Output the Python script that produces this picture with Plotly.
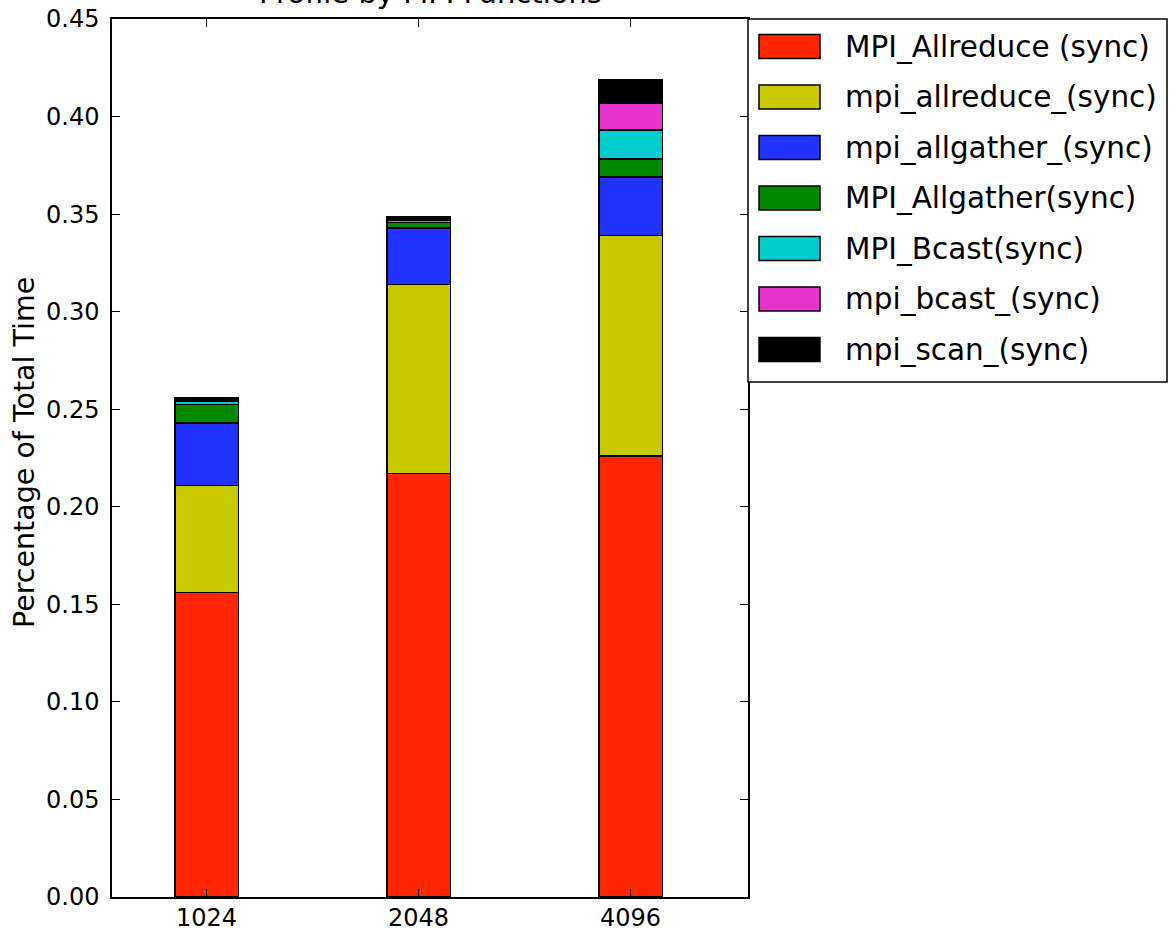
import plotly.graph_objects as go

# ---- data ----
categories = ["1024", "2048", "4096"]
series_names = [
    "MPI_Allreduce (sync)",
    "mpi_allreduce_(sync)",
    "mpi_allgather_(sync)",
    "MPI_Allgather(sync)",
    "MPI_Bcast(sync)",
    "mpi_bcast_(sync)",
    "mpi_scan_(sync)",
]
mpi_allreduce_sync = [0.156, 0.217, 0.226]
mpi_allreduce_us = [0.055, 0.097, 0.113]
mpi_allgather_us = [0.032, 0.029, 0.030]
mpi_allgather_sync = [0.0093, 0.0028, 0.0092]
mpi_bcast_sync = [0.0020, 0.0012, 0.0148]
mpi_bcast_us = [0.0008, 0.0008, 0.0137]
mpi_scan_us = [0.0009, 0.0008, 0.0120]
series_values = [
    mpi_allreduce_sync, mpi_allreduce_us, mpi_allgather_us,
    mpi_allgather_sync, mpi_bcast_sync, mpi_bcast_us, mpi_scan_us,
]
y_ticks = [0.00, 0.05, 0.10, 0.15, 0.20, 0.25, 0.30, 0.35, 0.40, 0.45]

colors = ["#FF2600", "#C8C800", "#2233FF", "#008800", "#00CCCC", "#E535CC", "#000000"]

W, H = 1176, 932
L, R, T, B = 112, 748, 19, 897  # plot area in pixels
FONT = "DejaVu Sans"


def px(xpix):
    return (xpix - L) / (R - L)


def py(ypix):
    return (B - ypix) / (B - T)


xpos = list(range(len(categories)))

fig = go.Figure()
for name, vals, col in zip(series_names, series_values, colors):
    fig.add_trace(go.Bar(
        x=xpos, y=vals, name=name, width=0.3,
        marker=dict(color=col, line=dict(color="black", width=1.5)),
        showlegend=False,
    ))

fig.update_layout(
    width=W, height=H,
    barmode="stack",
    plot_bgcolor="white", paper_bgcolor="white",
    margin=dict(l=L, r=W - R, t=T, b=H - B, pad=0, autoexpand=False),
    font=dict(family=FONT, color="black", size=24),
    showlegend=False,
)
fig.update_xaxes(
    range=[-0.446, 2.554],
    tickvals=xpos, ticktext=categories,
    ticks="inside", ticklen=8, tickwidth=1, tickcolor="black",
    showline=True, linecolor="black", linewidth=1.5, mirror="ticks",
    showgrid=False, zeroline=False, automargin=False,
    tickfont=dict(family=FONT, size=24),
    ticklabelstandoff=-2,
)
fig.update_yaxes(
    range=[0, 0.45],
    tickvals=y_ticks, tickformat=".2f",
    ticks="inside", ticklen=8, tickwidth=1, tickcolor="black",
    showline=True, linecolor="black", linewidth=1.5, mirror="ticks",
    showgrid=False, zeroline=False, automargin=False,
    tickfont=dict(family=FONT, size=24),
    ticklabelstandoff=6,
)

# title (partially cut off at top, as in the reference)
fig.add_annotation(
    text="Profile by MPI Functions", xref="paper", yref="paper",
    x=px(430), y=py(12), xanchor="center", yanchor="bottom",
    showarrow=False, font=dict(family=FONT, size=29),
)
# y axis title
fig.add_annotation(
    text="Percentage of Total Time", xref="paper", yref="paper",
    x=px(25), y=py(453), xanchor="center", yanchor="middle",
    textangle=-90, showarrow=False, font=dict(family=FONT, size=28.5),
)

# legend drawn box-style (matplotlib look)
fig.add_shape(type="rect", xref="paper", yref="paper",
              x0=px(748), x1=px(1167), y0=py(382), y1=py(19),
              line=dict(color="black", width=1.5), fillcolor="white", layer="above")
for i, (name, col) in enumerate(zip(series_names, colors)):
    cy = 46.5 + 50.5 * i
    fig.add_shape(type="rect", xref="paper", yref="paper",
                  x0=px(759), x1=px(820), y0=py(cy + 12), y1=py(cy - 12),
                  line=dict(color="black", width=1.5), fillcolor=col, layer="above")
    fig.add_annotation(text=name, xref="paper", yref="paper",
                       x=px(843), y=py(cy), xanchor="left", yanchor="middle",
                       showarrow=False, font=dict(family=FONT, size=29.5))

fig.write_html("out.html")
